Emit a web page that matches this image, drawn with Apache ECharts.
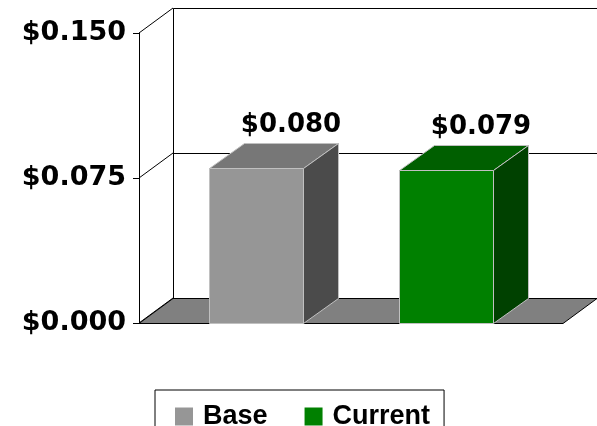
<!DOCTYPE html>
<html>
<head>
<meta charset="utf-8">
<script src="https://cdn.jsdelivr.net/npm/echarts@6/dist/echarts.min.js"></script>
<style>
html,body{margin:0;padding:0;background:#fff;}
#chart{width:597px;height:426px;}
</style>
</head>
<body>
<div id="chart"></div>
<script>
// ---- data ----
const categories = [''];
const seriesNames = ['Base', 'Current'];
const baseValues = [0.080];
const currentValues = [0.079];
const tickValues = [0, 0.075, 0.150];

// ---- style ----
const DX = 34, DY = -25;        // 3D depth offset of the chart frame
const BDX = 35, BDY = -25;      // 3D depth offset of bars
const baseColors = { front: '#969696', top: '#777777', side: '#4b4b4b' };
const currentColors = { front: '#008000', top: '#005f00', side: '#004100' };
const edgeColor = '#c0c0c0';
const numFont = 'DejaVu Sans';
const fmt = v => '$' + v.toFixed(3);

function px(v) { return Math.round(v) + 0.5; }

function frameRender(params, api) {
  const cs = params.coordSys;
  const L = cs.x, R = cs.x + cs.width, B = cs.y + cs.height, T = cs.y;
  const children = [];
  // back wall
  children.push({
    type: 'rect',
    shape: { x: px(L + DX), y: px(T + DY), width: Math.round(R - L), height: Math.round(B - T) },
    style: { fill: '#ffffff', stroke: '#000', lineWidth: 1 }
  });
  // gridlines on back wall and connectors to the front axis
  tickValues.forEach(v => {
    const y = api.coord([0, v])[1];
    children.push({
      type: 'line',
      shape: { x1: px(L + DX), y1: px(y + DY), x2: px(R + DX) + 2, y2: px(y + DY) },
      style: { stroke: '#000', lineWidth: 1 }
    });
    children.push({
      type: 'line',
      shape: { x1: L, y1: y, x2: L + DX, y2: y + DY },
      style: { stroke: '#000', lineWidth: 1 }
    });
  });
  // floor
  children.push({
    type: 'polygon',
    shape: { points: [[L, px(B)], [R, px(B)], [R + DX, px(B + DY)], [L + DX, px(B + DY)]] },
    style: { fill: '#808080', stroke: '#000', lineWidth: 1 }
  });
  return { type: 'group', children: children };
}

function makeBarRender(slot, colors) {
  return function (params, api) {
    const xi = api.value(0);
    const v = api.value(1);
    const base = api.coord([xi, 0]);
    const top = api.coord([xi, v]);
    const bw = api.size([1, 0])[0];
    const w = bw * 0.222;
    const cx = base[0] + slot * bw * 0.2235;
    const x0 = Math.round(cx - w / 2), x1 = Math.round(cx + w / 2);
    const yb = Math.round(base[1]), yt = Math.round(top[1]);
    const st = { stroke: edgeColor, lineWidth: 1 };
    return {
      type: 'group',
      children: [
        { type: 'rect', shape: { x: x0 + 0.5, y: yt + 0.5, width: x1 - x0, height: yb - yt },
          style: Object.assign({ fill: colors.front }, st) },
        { type: 'polygon', shape: { points: [[x0 + 0.5, yt + 0.5], [x1 + 0.5, yt + 0.5], [x1 + BDX + 0.5, yt + BDY + 0.5], [x0 + BDX + 0.5, yt + BDY + 0.5]] },
          style: Object.assign({ fill: colors.top }, st) },
        { type: 'polygon', shape: { points: [[x1 + 0.5, yt + 0.5], [x1 + BDX + 0.5, yt + BDY + 0.5], [x1 + BDX + 0.5, yb + BDY + 0.5], [x1 + 0.5, yb + 0.5]] },
          style: Object.assign({ fill: colors.side }, st) },
        { type: 'text',
          style: { text: fmt(v), x: (x0 + x1) / 2 + BDX, y: yt + BDY - 5,
                   align: 'center', verticalAlign: 'bottom',
                   font: 'bold 26px "' + numFont + '"', fill: '#000' } }
      ]
    };
  };
}

const chart = echarts.init(document.getElementById('chart'), null, { renderer: 'canvas' });
chart.setOption({
  animation: false,
  backgroundColor: '#ffffff',
  grid: { left: 139, top: 33, width: 424, height: 290 },
  xAxis: {
    type: 'category', data: categories,
    axisLine: { show: false }, axisTick: { show: false }, axisLabel: { show: false }
  },
  yAxis: {
    type: 'value', min: 0, max: 0.150, interval: 0.075,
    axisLine: { show: true, lineStyle: { color: '#000', width: 1 } },
    axisTick: { show: true, length: 6, lineStyle: { color: '#000', width: 1 } },
    splitLine: { show: false },
    axisLabel: {
      formatter: v => fmt(v), margin: 13,
      color: '#000', fontFamily: numFont, fontWeight: 'bold', fontSize: 27
    }
  },
  legend: {
    data: seriesNames,
    left: 155, top: 390,
    orient: 'horizontal',
    icon: 'rect',
    itemWidth: 18, itemHeight: 18, itemGap: 37,
    padding: [13, 14, 20, 20],
    borderColor: '#000', borderWidth: 1,
    textStyle: { color: '#000', fontFamily: 'Liberation Sans', fontWeight: 'bold', fontSize: 27, lineHeight: 20, padding: [0, 0, 0, 5] }
  },
  series: [
    { type: 'custom', name: 'frame', renderItem: frameRender, data: [[0, 0]], z: 1, silent: true },
    { type: 'custom', name: seriesNames[0], renderItem: makeBarRender(-1, baseColors),
      itemStyle: { color: baseColors.front }, data: baseValues.map((v, i) => [i, v]), z: 2 },
    { type: 'custom', name: seriesNames[1], renderItem: makeBarRender(1, currentColors),
      itemStyle: { color: currentColors.front }, data: currentValues.map((v, i) => [i, v]), z: 2 }
  ]
});
</script>
</body>
</html>
